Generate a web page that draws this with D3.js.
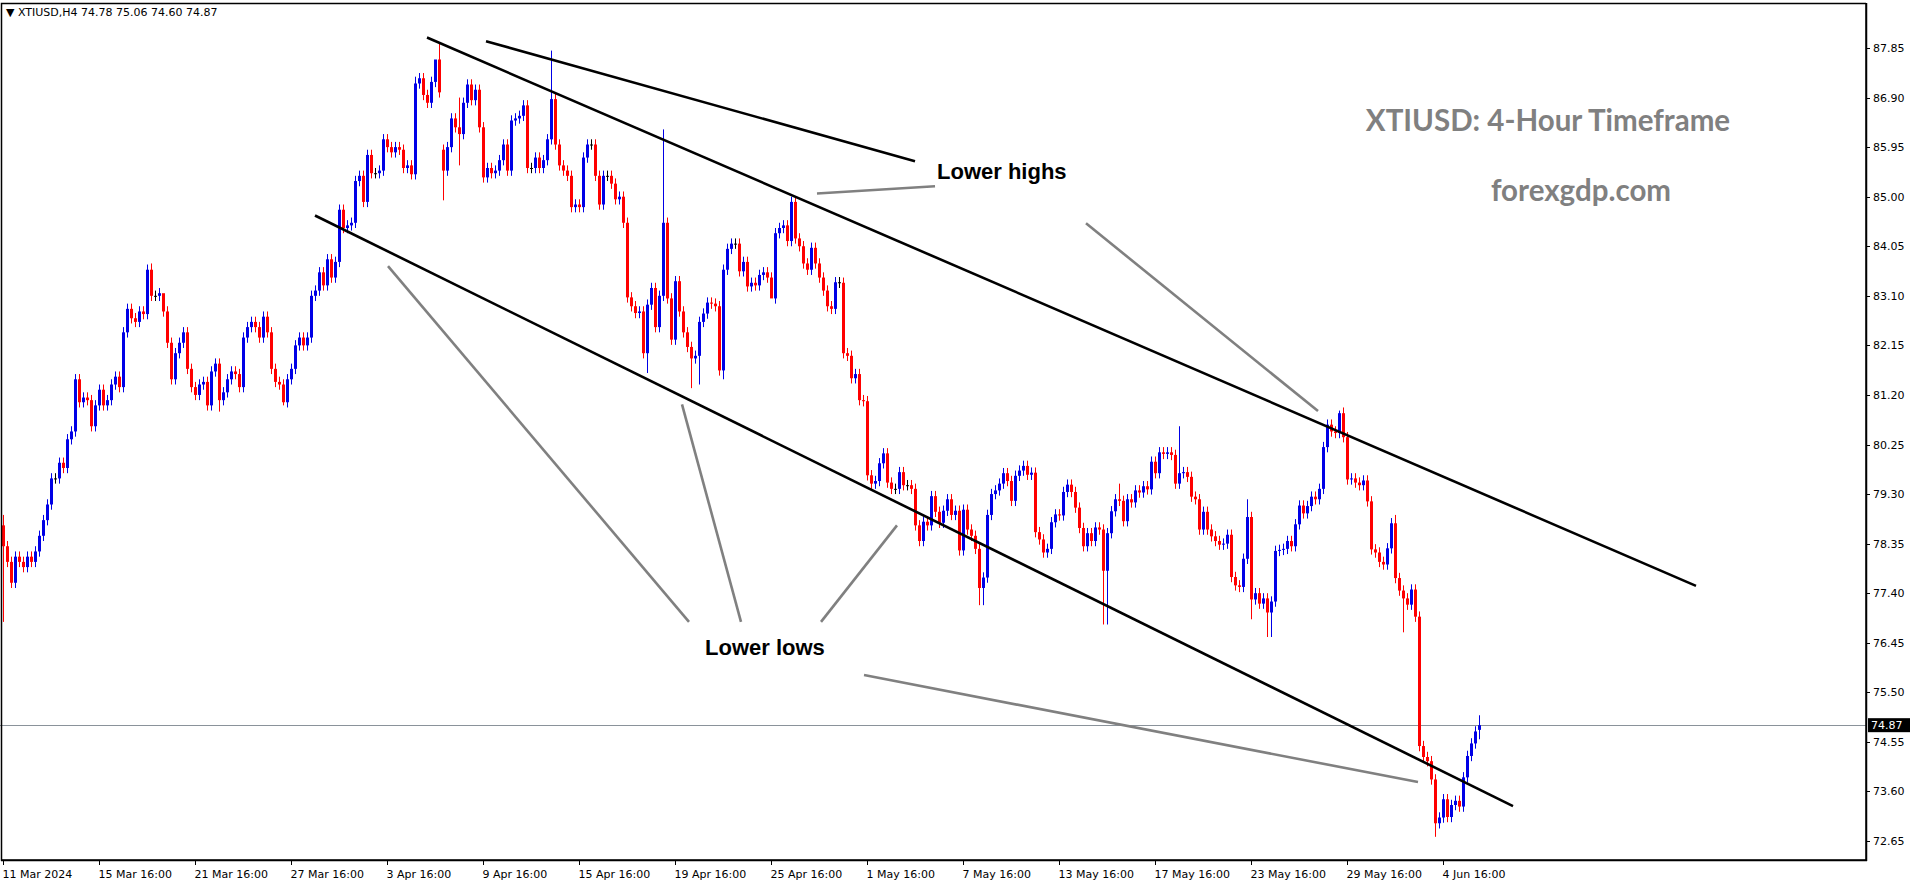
<!DOCTYPE html>
<html><head><meta charset="utf-8">
<script src="https://cdn.jsdelivr.net/npm/d3@7/dist/d3.min.js"></script>
<style>body{margin:0;background:#fff}svg{display:block}</style>
</head><body>
<svg id="c" width="1916" height="884"></svg>
<script>
const firstOpen = 78.7;
const closes = [
78.3,78.0,77.6,78.1,78.0,77.9,78.1,78.0,78.2,78.5,78.8,
79.1,79.6,79.6,79.9,79.8,80.35,80.5,81.5,81.06,
81.15,81.1,80.6,81.0,81.3,81.0,81.1,81.4,81.55,81.35,
82.4,82.85,82.67,82.6,82.8,82.75,83.6,83.1,83.1,83.15,
82.8,82.2,81.5,82.0,82.2,82.4,81.7,81.35,81.2,81.4,
81.45,81.0,81.65,81.8,81.1,81.25,81.5,81.65,81.6,81.35,
82.3,82.5,82.6,82.5,82.3,82.7,82.4,81.7,81.45,81.4,
81.06,81.5,81.7,82.15,82.3,82.15,82.3,83.1,83.2,83.55,
83.3,83.8,83.45,83.75,84.75,84.4,84.45,84.5,85.3,85.4,
84.9,85.8,85.45,85.45,85.5,86.1,85.95,85.85,85.95,85.9,
85.55,85.6,85.43,87.17,87.27,86.95,86.8,87.2,87.63,87.0,
85.5,85.95,86.5,86.33,86.2,86.8,87.15,86.85,87.05,86.33,
85.37,85.55,85.45,85.5,85.7,86.0,85.5,86.46,86.5,86.55,
86.75,85.55,85.55,85.75,85.55,85.7,86.1,86.87,86.0,85.6,
85.5,85.4,84.8,84.85,84.8,85.75,86.0,86.0,85.4,84.85,
85.4,85.4,85.25,84.95,85.0,84.5,83.07,82.9,82.77,82.8,
82.0,82.93,83.25,82.5,83.1,84.5,83.05,82.26,83.38,82.8,
82.4,82.12,81.9,81.95,82.6,82.76,82.97,82.95,82.9,81.67,
83.6,84.0,84.1,84.1,83.57,83.75,83.28,83.35,83.3,83.5,
83.55,83.45,83.05,84.3,84.4,84.45,84.15,84.9,84.2,84.05,
83.72,83.6,84.02,83.72,83.45,83.2,82.9,82.85,83.36,83.35,
82.0,81.95,81.52,81.6,81.1,81.08,79.66,79.5,79.55,79.89,
80.08,79.52,79.4,79.4,79.72,79.47,79.47,79.4,78.7,78.4,
78.77,78.7,79.26,78.96,78.75,78.98,79.2,78.9,78.98,78.22,
79.0,78.62,78.5,78.25,77.5,77.7,78.9,79.3,79.37,79.5,
79.7,79.55,79.17,79.65,79.75,79.84,79.67,79.71,78.57,78.43,
78.18,78.25,78.76,78.91,78.89,79.34,79.48,79.34,79.04,78.65,
78.3,78.55,78.4,78.66,78.62,77.83,78.55,78.97,79.2,79.17,
78.78,79.2,79.14,79.37,79.33,79.45,79.39,79.92,79.7,80.1,
80.07,80.1,80.05,79.5,79.7,79.72,79.63,79.25,79.2,78.62,
78.96,78.62,78.49,78.4,78.33,78.35,78.52,77.71,77.55,77.52,
78.06,78.86,77.28,77.4,77.2,77.3,77.03,77.24,78.21,78.23,
78.25,78.4,78.3,78.72,79.08,78.93,79.07,79.25,79.2,79.4,
80.2,80.63,80.5,80.47,80.85,80.39,79.58,79.6,79.52,79.47,
79.56,79.16,78.24,78.18,78.0,77.95,78.26,78.74,77.69,77.45,
77.3,77.18,77.47,76.95,74.47,74.26,74.18,73.83,72.99,73.1,
73.45,73.11,73.34,73.42,73.31,73.87,74.28,74.52,74.75,74.87];
// notable wick extremes [index, price]
const wickHighs = [[0,78.9],[37,83.72],[40,82.9],[84,84.85],[103,87.3],[108,87.5],[109,87.93],[114,86.9],[137,87.8],[165,86.29],[279,79.5],[294,80.6],[311,79.2],[334,80.9],[335,80.96],[348,78.9],[369,75.06]];
const wickLows = [[0,76.85],[54,80.88],[70,81.0],[110,84.93],[114,85.6],[161,81.62],[172,81.33],[174,81.4],[180,81.5],[192,83.3],[244,77.17],[245,77.17],[275,76.8],[276,76.8],[312,76.9],[316,76.56],[317,76.56],[350,76.65],[358,72.73],[369,74.6]];
const gapOpens = [[110,85.9],[369,74.78]];
const priceTicks = [87.85,86.90,85.95,85.00,84.05,83.10,82.15,81.20,80.25,79.30,78.35,77.40,76.45,75.50,74.55,73.60,72.65];
const dateLabels = ["11 Mar 2024","15 Mar 16:00","21 Mar 16:00","27 Mar 16:00","3 Apr 16:00","9 Apr 16:00","15 Apr 16:00","19 Apr 16:00","25 Apr 16:00","1 May 16:00","7 May 16:00","13 May 16:00","17 May 16:00","23 May 16:00","29 May 16:00","4 Jun 16:00"];
const labelEvery = 24;
// trend lines [i1,p1,i2,p2]
const blackLines = [[106,88.05,423.25,77.54],[120.75,87.98,228,85.68],[78,84.64,377.5,73.32]];
const grayLines = [[203.5,85.06,233,85.2],[270.75,84.49,328.75,80.89],[96.25,83.67,171.5,76.85],[169.75,81.02,184.5,76.85],[223.5,78.7,204.5,76.85],[215.25,75.83,353.75,73.78]];
const lastPrice = 74.87;

const svg = d3.select("#c");
const x = d3.scaleLinear().domain([0, 369]).range([3, 1479]);
const y = d3.scaleLinear().domain([72.65, 87.85]).range([841, 48]);
const hi = new Map(wickHighs), lo = new Map(wickLows), go = new Map(gapOpens);
const candles = closes.map((c, i) => {
  const o = go.has(i) ? go.get(i) : (i === 0 ? firstOpen : closes[i-1]);
  const h = hi.has(i) ? hi.get(i) : Math.max(o, c) + 0.1;
  const l = lo.has(i) ? lo.get(i) : Math.min(o, c) - 0.1;
  return {i, o, h, l, c};
});
const col = d => Math.abs(d.c - d.o) < 0.015 ? "#000" : (d.c > d.o ? "#0000e6" : "#ff0000");

svg.append("line").attr("x1",0).attr("x2",1916).attr("y1",Math.round(y(lastPrice))+0.5).attr("y2",Math.round(y(lastPrice))+0.5).attr("stroke","#8a929a").attr("stroke-width",1);

const g = svg.append("g");
g.selectAll("line.w").data(candles).join("line").attr("class","w")
 .attr("x1",d=>Math.round(x(d.i))+0.5).attr("x2",d=>Math.round(x(d.i))+0.5)
 .attr("y1",d=>y(d.h)).attr("y2",d=>y(d.l)).attr("stroke",col).attr("stroke-width",1);
g.selectAll("rect").data(candles).join("rect")
 .attr("x",d=>Math.round(x(d.i))-1).attr("width",3)
 .attr("y",d=>y(Math.max(d.o,d.c))).attr("height",d=>Math.max(1,Math.abs(y(d.o)-y(d.c))))
 .attr("fill",col);

svg.selectAll("line.bl").data(blackLines).join("line").attr("class","bl")
 .attr("x1",d=>x(d[0])).attr("y1",d=>y(d[1])).attr("x2",d=>x(d[2])).attr("y2",d=>y(d[3]))
 .attr("stroke","#000").attr("stroke-width",2.6);
svg.selectAll("line.gl").data(grayLines).join("line").attr("class","gl")
 .attr("x1",d=>x(d[0])).attr("y1",d=>y(d[1])).attr("x2",d=>x(d[2])).attr("y2",d=>y(d[3]))
 .attr("stroke","#808080").attr("stroke-width",2.6);

// frame
svg.append("rect").attr("x",1.5).attr("y",3.5).attr("width",1864.5).attr("height",856.5).attr("fill","none").attr("stroke","#000").attr("stroke-width",1.5);
svg.append("rect").attr("x",1866).attr("y",0).attr("width",50).attr("height",884).attr("fill","#fff");
svg.append("rect").attr("x",0).attr("y",861).attr("width",1916).attr("height",23).attr("fill","#fff");
svg.append("line").attr("x1",1866.5).attr("x2",1866.5).attr("y1",3).attr("y2",861).attr("stroke","#000").attr("stroke-width",1.5);
svg.append("line").attr("x1",1).attr("x2",1867).attr("y1",860.5).attr("y2",860.5).attr("stroke","#000").attr("stroke-width",1.5);

const font = "'DejaVu Sans', sans-serif";
const yAxis = svg.append("g").attr("transform","translate(1866,0)");
priceTicks.forEach(p => {
  yAxis.append("line").attr("x1",0).attr("x2",4).attr("y1",Math.round(y(p))+0.5).attr("y2",Math.round(y(p))+0.5).attr("stroke","#000");
  yAxis.append("text").attr("x",7).attr("y",y(p)+4).attr("font-family",font).attr("font-size",11).attr("fill","#000").text(p.toFixed(2));
});
yAxis.append("rect").attr("x",2).attr("y",y(lastPrice)-7).attr("width",42).attr("height",14).attr("fill","#000");
yAxis.append("text").attr("x",5).attr("y",y(lastPrice)+4).attr("font-family",font).attr("font-size",11).attr("fill","#fff").text(lastPrice.toFixed(2));

dateLabels.forEach((t,k) => {
  const xx = Math.round(x(k*labelEvery))+0.5;
  svg.append("line").attr("x1",xx).attr("x2",xx).attr("y1",860).attr("y2",865).attr("stroke","#000");
  svg.append("text").attr("x",xx-1).attr("y",878).attr("font-family",font).attr("font-size",11).attr("fill","#000").text(t);
});

svg.append("text").attr("x",6).attr("y",16).attr("font-family",font).attr("font-size",11).attr("fill","#000").text("\u25BC XTIUSD,H4  74.78 75.06 74.60 74.87");

const bold = "Lato, 'Open Sans', sans-serif";
svg.append("text").attr("x",1548).attr("y",131).attr("text-anchor","middle").attr("font-family",bold).attr("font-weight",700).attr("font-size",29.5).attr("fill","#808080").text("XTIUSD: 4-Hour Timeframe");
svg.append("text").attr("x",1581).attr("y",201).attr("text-anchor","middle").attr("font-family",bold).attr("font-weight",700).attr("font-size",29.5).attr("fill","#808080").text("forexgdp.com");
svg.append("text").attr("x",937).attr("y",179).attr("font-family","'Liberation Sans', Arial, sans-serif").attr("font-weight",700).attr("font-size",22).attr("fill","#000").text("Lower highs");
svg.append("text").attr("x",705).attr("y",655).attr("font-family","'Liberation Sans', Arial, sans-serif").attr("font-weight",700).attr("font-size",22).attr("fill","#000").text("Lower lows");
</script>
</body></html>
